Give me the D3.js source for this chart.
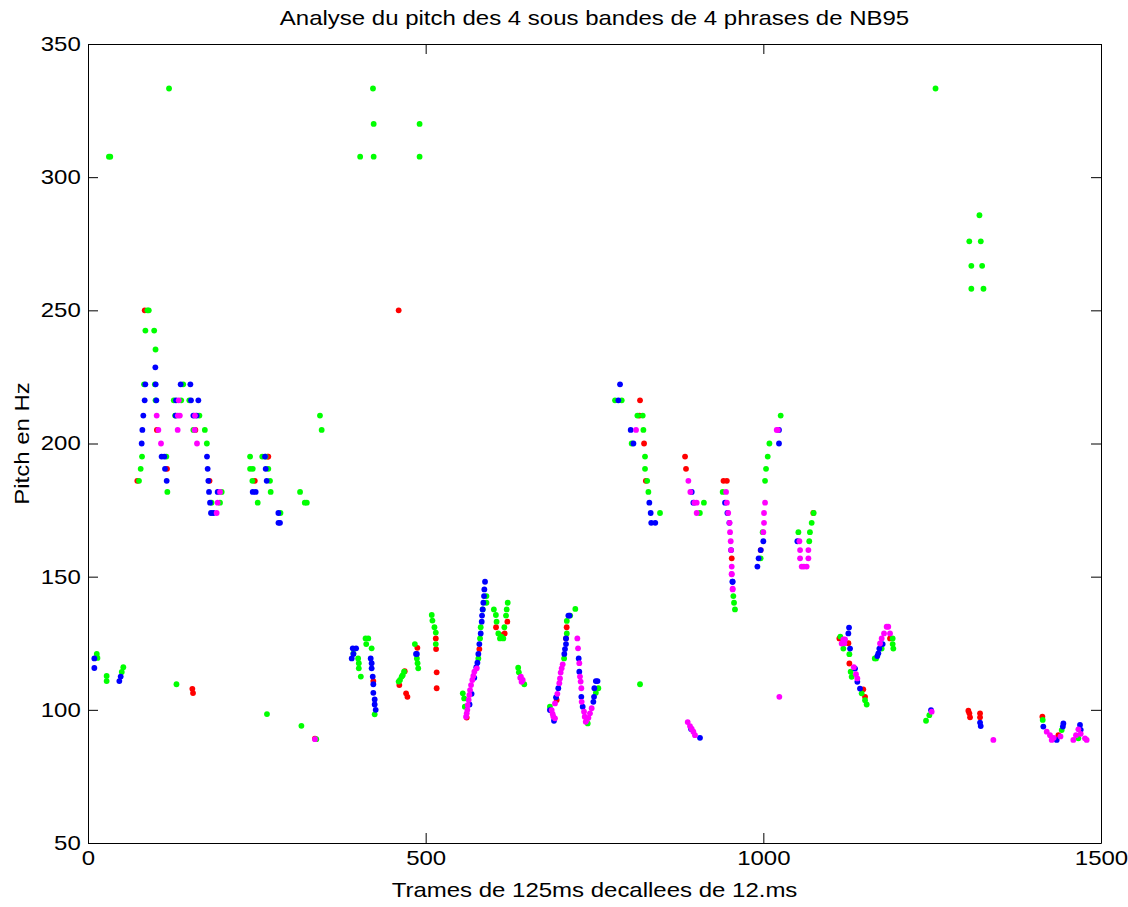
<!DOCTYPE html>
<html>
<head>
<meta charset="utf-8">
<script src="https://cdn.jsdelivr.net/npm/d3@7"></script>
<style>
  html, body { margin: 0; padding: 0; background: #fff; }
  svg { display: block; }
  text { font-family: "Liberation Sans", Arial, Helvetica, sans-serif; fill: #000; }
</style>
</head>
<body>
<script>
// Axis ticks
const xTicks = [0, 500, 1000, 1500];
const yTicks = [50, 100, 150, 200, 250, 300, 350];

// Pitch estimates [frame, Hz] for each of the four sub-bands
const redPts = [
  [84, 250], [460, 250], [102, 205.1], [159, 205.1], [117, 190.5], [73, 186],
  [180, 186], [247, 186], [266, 195.1], [267, 195.1],
  [154.5, 107.9], [155.5, 106.3], [336, 89.2],
  [422.5, 110.8], [469, 114.5], [461, 109.3], [471, 106.2], [473, 104.9],
  [487.7, 123.3], [515, 126.8], [515.4, 122.8], [516.3, 114.1], [516.3, 108.1],
  [579.5, 122.8], [560.8, 97.1], [604.2, 131], [617, 128.7], [621, 133.1], [612, 128],
  [694, 103.7], [707.8, 126.8], [708.8, 131],
  [817.4, 216.2], [816.4, 210.5], [823.4, 200], [826, 186], [884.1, 195.1], [885.5, 190.5],
  [941, 186], [946, 186], [953.2, 156.9], [996.1, 160], [1074, 173.9],
  [1112.6, 126.8], [1126, 125], [1127.4, 117.4], [1148, 107.7], [1150.6, 104.9], [1187.6, 126.8],
  [1303.6, 99.7], [1305.1, 98.7], [1306.1, 97.2], [1320.9, 98.7], [1320.9, 97.2],
  [1413.2, 97.4], [1436.9, 90.5]
];

const greenPts = [
  [31, 307.7], [33, 307.7], [120, 333.3], [403, 307.7], [423, 307.7], [423, 320], [422, 333.3],
  [491, 320], [491, 307.7], [1255, 333.3], [1320, 285.7], [1305, 275.9], [1322, 275.9],
  [1308, 266.7], [1324, 266.7], [1308, 258.1], [1326, 258.1],
  [88, 250], [90, 250], [85, 242.4], [98, 242.4], [100, 235.3], [83, 222.2], [99, 222.2],
  [141, 222.2], [100, 216.2], [127, 216.2], [138, 216.2], [150, 216.2], [129, 210.5],
  [165, 210.5], [156, 205.1], [173, 205.1], [176, 200], [80, 195.1], [116, 195.1],
  [78, 190.5], [75.5, 186], [117.5, 181.8], [198, 181.8], [183, 177.8], [195.5, 177.8],
  [240, 195.1], [258, 195.1], [263, 195.1], [240, 190.5], [244, 190.5], [267, 190.5],
  [243.4, 186], [269.5, 186], [270.5, 181.8], [251.3, 177.8], [285, 173.9],
  [314, 181.8], [321, 177.8], [324, 177.8], [343.5, 210.5], [346, 205.1],
  [13, 121], [14, 119.5], [27.6, 112.7], [27.6, 110.8], [50, 114.2], [52.3, 116],
  [131, 109.6], [265, 98.4], [316, 94], [338, 89],
  [393, 121.2], [400, 119.3], [401, 117.5], [401, 115.6], [404, 112.5], [411, 126.8],
  [415, 126.8], [412, 124.7], [420, 123.1], [424.5, 98.3], [468, 114.3], [464.5, 112.5],
  [462, 111.2], [460, 110.6], [466, 113], [484, 124.7], [487, 119.3], [488, 117.5],
  [489, 115.6], [509, 135.6], [510, 133.5], [513, 131], [515, 129], [515, 124.7],
  [590, 142.7], [590, 140.2], [584.5, 137.7], [581.5, 131], [580.5, 126.8], [578, 119.3],
  [555, 106.2], [557, 104.3], [558, 101.2],
  [601, 137.7], [604, 135.6], [605, 133.1], [621.5, 140.2], [620, 137.7], [619, 135.4],
  [616.5, 131], [610, 126.8], [615, 126.8], [607.6, 128.7], [612, 127.5],
  [637, 115.8], [638, 114.1], [646, 109.6],
  [684, 101.2], [705, 119.3], [709, 128.7], [709, 133.4], [714, 135.4], [721.6, 137.9],
  [740, 94.9], [752, 106.4], [755.7, 108.1], [817.4, 109.6],
  [955.6, 142.7], [956.6, 140.2], [958, 137.7],
  [780.4, 216.2], [790.3, 216.2], [813.5, 210.5], [821.4, 210.5], [822.4, 205.1], [805, 200],
  [824.8, 195.1], [824.8, 190.5], [828, 186], [829.8, 181.8], [847, 173.9], [912, 177.8],
  [906, 173.9], [939.8, 181.8], [1025.7, 210.5], [1009, 200], [1006.5, 195.1],
  [1004, 190.5], [1002.5, 186], [999, 166.7], [996, 156.9], [1051.9, 166.7], [1069, 166.7],
  [1068, 163.3], [1071.6, 170.2], [1074.5, 173.9],
  [1114, 127.5], [1118.5, 123], [1127.4, 120.9], [1129.3, 114.3], [1130.8, 112.4],
  [1145.6, 106.2], [1150.6, 103.6], [1153, 102], [1191.5, 126.8], [1191.5, 124.7],
  [1192.5, 123], [1175.2, 123], [1167, 119.3], [1165, 119.3],
  [1245.8, 98], [1240.9, 95.9], [1413.7, 96.2], [1441.8, 92.4], [1466.5, 89.3]
];

const bluePts = [
  [99.7, 228.6], [84.9, 222.2], [100.2, 222.2], [137.2, 222.2], [151.6, 222.2],
  [83.9, 216.2], [101.2, 216.2], [130.3, 216.2], [152.5, 216.2], [163.4, 216.2],
  [81.9, 210.5], [129.8, 210.5], [156, 210.5], [160.9, 210.5], [80.5, 205.1], [79.5, 200],
  [109, 195.1], [113, 195.1], [176.2, 195.1], [262.1, 195.1], [114, 190.5], [177.2, 190.5],
  [263.1, 190.5], [116.5, 186], [178.2, 186], [264.6, 186], [179.2, 181.8], [192, 181.8],
  [243.9, 181.8], [248.3, 181.8], [180.7, 177.8], [182.1, 173.9], [185.6, 173.9],
  [281.9, 173.9], [284.3, 170.2], [282, 170.2],
  [9.4, 119.3], [9.4, 115.7], [46.4, 110.8], [48.4, 112.5],
  [392, 123.1], [397, 123.1], [393, 121], [390.5, 119.3], [418.6, 119.3], [420, 117.5],
  [420, 115.6], [421.6, 112.5], [422.5, 109.6], [422.5, 106.4], [424.5, 103.9],
  [424.5, 102], [426, 100], [485.7, 121], [487, 121],
  [587.9, 148.1], [586.9, 145.2], [586.4, 142.7], [585.4, 140.2], [584.4, 137.7],
  [583.5, 135.4], [583, 133.1], [581.5, 128.7], [579.5, 124.7], [578, 121], [576.6, 117.7],
  [575, 116], [572, 112], [568, 106], [565, 102],
  [684, 99.9], [690, 95.9], [693, 104.7], [696.4, 108.1], [705.3, 121], [706.3, 122.8],
  [707.8, 124.7], [707.8, 126.8], [711.3, 135.4], [713, 135.4], [726.6, 119.3],
  [727.5, 114.3], [730.5, 104.9], [732.5, 101.2], [748.3, 103], [749.3, 104.9],
  [749.8, 108.1], [752, 110.8], [754.5, 110.8], [906.2, 89.5], [893, 92.8], [954.6, 148.1],
  [787.8, 222.2], [785.3, 216.2], [803.6, 205.1], [807.6, 200], [831.2, 177.8],
  [833.2, 173.9], [834, 170.2], [840, 170.2], [894, 181.8], [896.4, 177.8], [943.3, 177.8],
  [946.8, 173.9], [949.7, 170.2], [952.2, 160], [954.2, 148.1], [1023.2, 205.1],
  [1023.2, 200], [1000, 163.3], [996.1, 160], [993, 156.9], [991.2, 153.8], [1050.4, 163.3],
  [1126.9, 130.9], [1125.9, 128.7], [1128.4, 123], [1135.8, 115.5], [1139.2, 110.5],
  [1143.1, 108], [1176.7, 124.7], [1171.8, 123], [1170.3, 121.2], [1168.8, 120.2],
  [1248.3, 99.9], [1320.9, 95.2], [1321.9, 93.9], [1414.6, 93.7], [1434.4, 88.7],
  [1444.3, 94.9], [1443.5, 93.7], [1468.9, 94.3], [1470, 92.5]
];

const magentaPts = [
  [134.3, 216.2], [133, 210.5], [136, 210.5], [158.4, 210.5], [101.7, 210.5], [104.2, 205.1],
  [132.8, 205.1], [158, 205.1], [108.1, 200], [161.4, 200], [195.5, 181.8], [192, 177.8],
  [190.5, 173.9], [336.1, 89],
  [559.8, 97.4], [560.8, 98.7], [561.7, 100], [562.2, 101.8], [563.7, 103.7], [564.7, 105.6],
  [565.7, 107.4], [567.2, 109.3], [569.1, 111.2], [570.6, 112.7], [572.1, 114.3], [575.6, 115.6],
  [641, 112.5], [643.7, 111.2], [640, 112], [642, 110.5],
  [686.6, 99.9], [688, 98.5], [689, 97.5], [691.5, 96.8], [691.5, 102.4], [695, 106],
  [697.9, 110], [698.9, 111.8], [699.9, 114], [701.4, 115.6], [702.9, 117.1],
  [724.6, 126.8], [725.6, 123.1], [727.5, 117.5], [728.5, 112.5], [729.5, 110.6],
  [730.5, 108.1], [731, 103], [734.5, 99.3], [735.5, 97.4], [738.4, 96.2], [737, 95.5],
  [741, 97], [743.3, 98.7], [745.8, 100.6],
  [888, 95.4], [891.4, 93.9], [894, 92.8], [896.4, 91.8], [898.8, 90.5],
  [953.1, 151], [954.6, 145.2], [1023.7, 104.9],
  [811.5, 205.1], [889, 186], [891.9, 181.8], [901.3, 177.8], [901.3, 173.9], [898, 177.8],
  [944.8, 181.8], [946, 177.8], [948, 173.9], [950, 170.2], [950.7, 166.7], [951.7, 163.3],
  [952.2, 160], [953.2, 153.8], [953.2, 150.9], [954.6, 145.5],
  [1019.8, 205.1], [1021.5, 205.1], [1002.5, 177.8], [1001, 173.9], [1001, 170.2], [1000, 166.7],
  [1053.4, 163.3], [1054.4, 160], [1066.7, 160], [1054.4, 156.9], [1066.7, 156.9],
  [1056.8, 153.8], [1060, 153.8], [1064.2, 153.8],
  [1118.5, 126.4], [1121, 126.4], [1116, 124.9], [1120, 125], [1137.2, 113.4], [1139.2, 111.8],
  [1134, 116], [1182.6, 131.2], [1185, 131.2], [1187.6, 128.7], [1178.7, 128.7],
  [1175.2, 126.8], [1172.8, 124.9],
  [1249.3, 99.3], [1340.6, 88.7], [1419.6, 91.8], [1424.5, 90.5], [1427, 88.7], [1430, 89.5],
  [1440, 90], [1466.5, 92.7], [1463, 90.5], [1459, 88.7], [1476.3, 89.3], [1478.8, 88.7],
  [1470, 91]
];

const seriesList = [
  { pts: redPts, color: "#ff0000" },
  { pts: greenPts, color: "#00ff00" },
  { pts: bluePts, color: "#0000ff" },
  { pts: magentaPts, color: "#ff00ff" }
];

const W = 1128, H = 907;
const plot = { left: 88, right: 1101, top: 44, bottom: 843 };
const fontSize = 20;
const stretch = 1.2;

const svg = d3.select("body").append("svg")
  .attr("width", W).attr("height", H);

const x = d3.scaleLinear().domain([0, 1500]).range([plot.left, plot.right]);
const y = d3.scaleLinear().domain([50, 350]).range([plot.bottom, plot.top]);
const plain = d3.format("d");

// Markers, drawn band by band
const marks = svg.append("g");
seriesList.forEach(s => {
  marks.append("g")
    .selectAll("circle")
    .data(s.pts)
    .join("circle")
    .attr("cx", d => x(d[0]))
    .attr("cy", d => y(d[1]))
    .attr("r", 2.9)
    .attr("fill", s.color);
});

// Axes with inward ticks on all four sides
function styleAxis(g) {
  g.select(".domain").attr("stroke", "#000").attr("stroke-width", 1);
  g.selectAll(".tick line").attr("stroke", "#000");
  g.selectAll("text")
    .style("font-family", '"Liberation Sans", Arial, sans-serif')
    .style("font-size", fontSize + "px")
    .attr("fill", "#000");
}

const gBottom = svg.append("g")
  .attr("transform", `translate(0,${plot.bottom})`)
  .call(d3.axisBottom(x).tickValues(xTicks).tickFormat(plain)
    .tickSizeInner(-10).tickSizeOuter(0).tickPadding(8))
  .call(styleAxis);
gBottom.selectAll(".tick text").attr("transform", `scale(${stretch},1)`);

svg.append("g")
  .attr("transform", `translate(0,${plot.top})`)
  .call(d3.axisTop(x).tickValues(xTicks).tickSizeInner(-10).tickSizeOuter(0).tickFormat(""))
  .call(styleAxis);

const gLeft = svg.append("g")
  .attr("transform", `translate(${plot.left},0)`)
  .call(d3.axisLeft(y).tickValues(yTicks).tickFormat(plain)
    .tickSizeInner(-10).tickSizeOuter(0).tickPadding(6))
  .call(styleAxis);
gLeft.selectAll(".tick text").attr("transform", `scale(${stretch},1)`);

svg.append("g")
  .attr("transform", `translate(${plot.right},0)`)
  .call(d3.axisRight(y).tickValues(yTicks).tickSizeInner(-10).tickSizeOuter(0).tickFormat(""))
  .call(styleAxis);

// Titles
function label(xp, yp, str, rotate) {
  const g = svg.append("g")
    .attr("transform", `translate(${xp},${yp})` + (rotate ? ` rotate(${rotate})` : ""));
  g.append("text")
    .attr("text-anchor", "middle")
    .attr("transform", `scale(${stretch},1)`)
    .style("font-size", fontSize + "px")
    .text(str);
}

label((plot.left + plot.right) / 2, 25, "Analyse du pitch des 4 sous bandes de 4 phrases de NB95");
label((plot.left + plot.right) / 2, 897, "Trames de 125ms decallees de 12.ms");
label(29, (plot.top + plot.bottom) / 2, "Pitch en Hz", -90);
</script>
</body>
</html>
